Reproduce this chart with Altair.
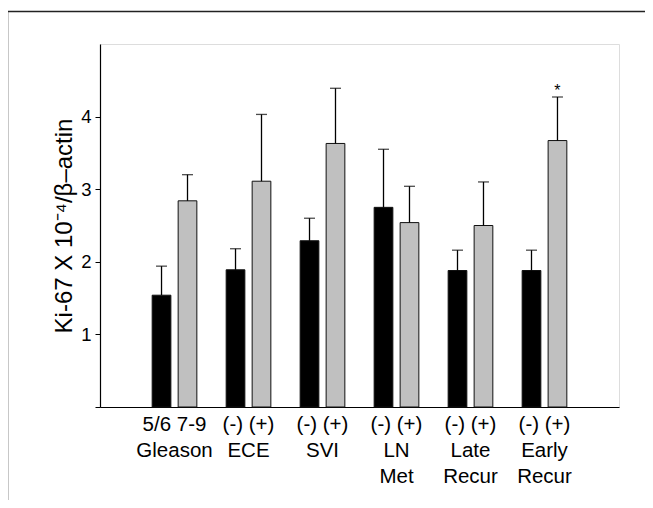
import altair as alt
import pandas as pd

top_row = ["5/6 7-9", "(-) (+)", "(-) (+)", "(-) (+)", "(-) (+)", "(-) (+)"]
names = ["Gleason", "ECE", "SVI", "LN|Met", "Late|Recur", "Early|Recur"]
neg_means = [1.54, 1.89, 2.29, 2.75, 1.88, 1.88]
neg_err = [1.94, 2.18, 2.60, 3.55, 2.16, 2.16]
pos_means = [2.84, 3.11, 3.63, 2.54, 2.50, 3.67]
pos_err = [3.20, 4.03, 4.39, 3.04, 3.10, 4.27]
signif = [False, False, False, False, False, True]

labels = [t + "|" + n for t, n in zip(top_row, names)]
rows = []
for i, lab in enumerate(labels):
    rows.append({"group": lab, "status": "neg", "mean": neg_means[i], "err": neg_err[i], "star": ""})
    rows.append({"group": lab, "status": "pos", "mean": pos_means[i], "err": pos_err[i],
                 "star": "*" if signif[i] else ""})
df = pd.DataFrame(rows)

FONT = "Liberation Sans"

x = alt.X("group:N", sort=labels,
          scale=alt.Scale(paddingInner=0.396, paddingOuter=0.705),
          axis=alt.Axis(title=None, ticks=False, domainColor="black", domainWidth=1.2,
                        labelExpr="split(datum.label, '|')", labelFontSize=20.5,
                        labelColor="black", labelPadding=7, labelLineHeight=26,
                        labelAngle=0, labelFont=FONT))
xo = alt.XOffset("status:N", scale=alt.Scale(paddingInner=0.28, paddingOuter=0))
y = alt.Y("mean:Q", scale=alt.Scale(domain=[0, 5], nice=False),
          axis=alt.Axis(values=[0, 1, 2, 3, 4], format="d",
                        labelExpr="datum.value == 0 ? '' : datum.label",
                        tickSize=5, tickColor="black", domainColor="black", domainWidth=1.2,
                        grid=False, labelFontSize=18.5, labelColor="black", labelPadding=4,
                        labelFont=FONT, title="Ki-67 X 10⁻⁴/β–actin", titleFontSize=24,
                        titleFontWeight="normal", titleFont=FONT, titleColor="black",
                        titlePadding=4))

base = alt.Chart(df)

bars = base.mark_bar(stroke="#111", strokeWidth=1).encode(
    x=x, xOffset=xo, y=y,
    color=alt.Color("status:N", scale=alt.Scale(domain=["neg", "pos"], range=["#000000", "#c0c0c0"]),
                    legend=None))

rules = base.mark_rule(color="black", strokeWidth=1.3).encode(
    x=x, xOffset=xo, y="mean:Q", y2="err:Q")

caps = base.mark_tick(color="black", size=11, thickness=1.3).encode(
    x=x, xOffset=xo, y="err:Q")

stars = base.mark_text(fontSize=16, font=FONT, baseline="alphabetic", dy=-1, color="black").encode(
    x=x, xOffset=xo, y="err:Q", text="star:N")

frame = alt.Chart(pd.DataFrame({"a": [0]})).mark_rect(
    fillOpacity=0, stroke="#222", strokeWidth=1.5).encode(
    x=alt.value(-92.5), x2=alt.value(800), y=alt.value(-32.5), y2=alt.value(700))

chart = alt.layer(frame, bars, rules, caps, stars).properties(
    width=519, height=363,
    autosize=alt.AutoSizeParams(type="none"),
    padding={"left": 92, "top": 36, "right": 26, "bottom": 93},
).configure_view(stroke="#333", strokeWidth=1.2).configure(background="white")

chart.save("out.html", embed_options={"renderer": "svg", "actions": False})
